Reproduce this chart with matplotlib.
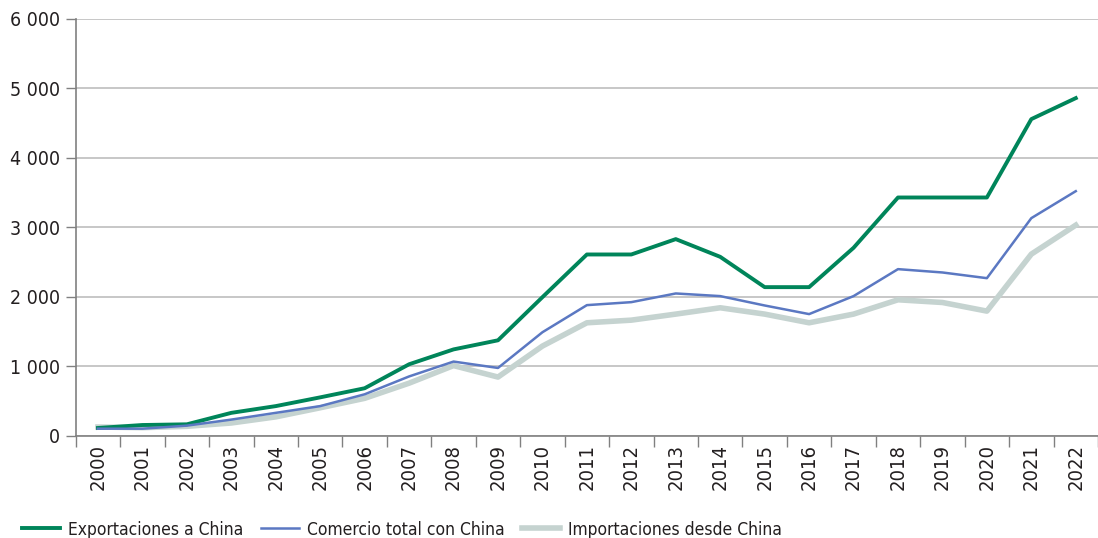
import matplotlib
matplotlib.use("Agg")
import matplotlib.pyplot as plt
from matplotlib.ticker import FuncFormatter, FixedLocator

plt.rcParams['font.family'] = ['DejaVu Sans']
plt.rcParams['font.stretch'] = 'condensed'

years = [str(y) for y in range(2000, 2023)]
exportaciones = [112, 155, 165, 330, 427, 553, 684, 1029, 1243, 1374, 1995,
                 2609, 2609, 2830, 2575, 2139, 2139, 2705, 3429, 3429, 3429, 4557, 4859]
comercio = [102, 102, 146, 233, 330, 427, 597, 854, 1068, 976, 1490,
            1880, 1923, 2048, 2010, 1875, 1751, 2010, 2398, 2350, 2268, 3132, 3520]
importaciones = [126, 117, 136, 184, 272, 403, 539, 757, 1010, 845, 1291,
                 1626, 1664, 1751, 1842, 1751, 1626, 1751, 1957, 1918, 1794, 2614, 3031]
series_labels = ["Exportaciones a China", "Comercio total con China", "Importaciones desde China"]

fig = plt.figure(figsize=(10.98, 5.38), dpi=100)
ax = fig.add_axes([0.069, 0.19, 0.931, 0.775])

x = list(range(len(years)))
l1, = ax.plot(x, exportaciones, color='#00855A', lw=2.8, zorder=4)
l2, = ax.plot(x, comercio, color='#5B78C2', lw=1.8, zorder=5)
l3, = ax.plot(x, importaciones, color='#C5D3D0', lw=4.0, zorder=3)

ax.set_xlim(-0.5, len(years) - 0.5)
ax.set_ylim(0, 6000)
ax.set_yticks(range(0, 6001, 1000))
ax.yaxis.set_major_formatter(FuncFormatter(lambda v, p: f"{int(v):,}".replace(",", " ")))
ax.grid(axis='y', color='#BDBDBD', lw=1.2, zorder=0)

ax.set_xticks(x)
ax.set_xticklabels(years, rotation=90)
ax.xaxis.set_minor_locator(FixedLocator([i - 0.5 for i in range(len(years) + 1)]))
ax.tick_params(axis='x', which='major', length=0, pad=6, labelsize=14.5, labelcolor='#231F20')
ax.tick_params(axis='x', which='minor', length=8, width=1, color='#808080')
ax.tick_params(axis='y', length=7, width=1, color='#808080', labelsize=14, labelcolor='#231F20', pad=4)

for s in ['top', 'right']:
    ax.spines[s].set_visible(False)
for s in ['left', 'bottom']:
    ax.spines[s].set_color('#808080')
    ax.spines[s].set_linewidth(1.2)

fig.legend([l1, l2, l3], series_labels, loc='lower left', bbox_to_anchor=(0.006, -0.03),
           ncol=3, frameon=False, fontsize=12.5, handlelength=2.2, columnspacing=1.0,
           handletextpad=0.46, labelcolor='#231F20')

fig.savefig("out.png", dpi=100)
